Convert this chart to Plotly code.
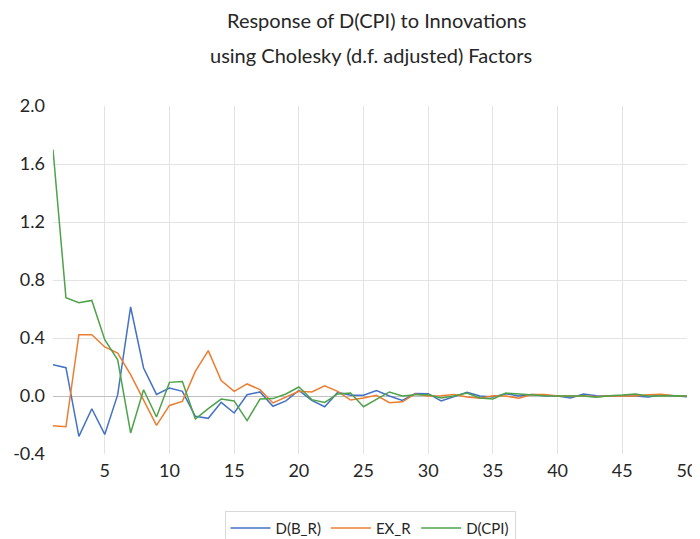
import plotly.graph_objects as go

periods = list(range(1, 51))

d_b_r = [0.216, 0.195, -0.278, -0.088, -0.265, 0.009, 0.614, 0.193, 0.011, 0.055,
         0.032, -0.140, -0.154, -0.044, -0.117, 0.009, 0.028, -0.071, -0.034, 0.039,
         -0.030, -0.074, 0.025, 0.005, 0.005, 0.037, 0.000, -0.030, 0.018, 0.016,
         -0.034, -0.005, 0.025, 0.000, -0.007, 0.016, 0.000, 0.010, 0.002, 0.000,
         -0.014, 0.014, 0.002, 0.000, 0.002, 0.000, -0.007, 0.007, 0.002, -0.005]

ex_r = [-0.205, -0.212, 0.423, 0.423, 0.338, 0.296, 0.147, -0.026, -0.203, -0.065,
        -0.037, 0.170, 0.313, 0.106, 0.032, 0.083, 0.044, -0.048, -0.009, 0.032,
        0.028, 0.071, 0.032, -0.028, -0.014, 0.005, -0.046, -0.040, 0.014, 0.000,
        0.002, 0.010, -0.007, -0.016, 0.002, 0.000, -0.016, 0.010, 0.010, 0.000,
        0.000, 0.002, -0.005, 0.002, 0.000, 0.000, 0.009, 0.012, 0.002, 0.000]

d_cpi = [1.700, 0.678, 0.643, 0.659, 0.388, 0.250, -0.255, 0.043, -0.145, 0.094,
         0.100, -0.159, -0.087, -0.021, -0.034, -0.170, -0.021, -0.018, 0.014, 0.062,
         -0.025, -0.044, 0.014, 0.020, -0.074, -0.025, 0.028, 0.000, 0.009, 0.009,
         -0.014, 0.000, 0.020, -0.014, -0.020, 0.020, 0.014, 0.005, 0.002, 0.000,
         0.000, 0.000, -0.009, 0.002, 0.007, 0.014, 0.000, 0.002, 0.002, 0.000]

x_tick_vals = [5, 10, 15, 20, 25, 30, 35, 40, 45, 50]
y_tick_vals = [-0.4, 0.0, 0.4, 0.8, 1.2, 1.6, 2.0]
y_tick_text = ["-0.4", "0.0", "0.4", "0.8", "1.2", "1.6", "2.0"]

series_names = ["D(B_R)", "EX_R", "D(CPI)"]
colors = ["#4472C4", "#ED7D31", "#4EA24A"]

FONT = "Lato, Open Sans, sans-serif"

fig = go.Figure()
for name, vals, col in zip(series_names, [d_b_r, ex_r, d_cpi], colors):
    fig.add_trace(go.Scatter(x=periods, y=vals, mode="lines", name=name,
                             line=dict(color=col, width=1.5)))

fig.update_layout(
    width=692, height=531,
    margin=dict(l=45, r=13, t=98, b=85, autoexpand=False),
    paper_bgcolor="white", plot_bgcolor="white",
    font=dict(family=FONT, color="#262626"),
    showlegend=True,
    legend=dict(orientation="h", x=0.5, xanchor="center", y=-0.163, yanchor="top",
                bordercolor="#d9d9d9", borderwidth=1, font=dict(size=15, color="#262626"),
                itemwidth=40),
    xaxis=dict(range=[1, 50], tickvals=x_tick_vals, showgrid=True, gridcolor="#e3e3e3",
               gridwidth=1, zeroline=False, showline=False, ticks="", automargin=False,
               ticklabelstandoff=4,
               tickfont=dict(size=18, family=FONT, color="#262626")),
    yaxis=dict(range=[-0.4, 2.0], tickvals=y_tick_vals, ticktext=y_tick_text,
               showgrid=True, gridcolor="#e3e3e3", gridwidth=1,
               zeroline=True, zerolinecolor="#bfbfbf", zerolinewidth=1,
               showline=False, ticks="", ticklabelstandoff=7, automargin=False,
               tickfont=dict(size=18, family=FONT, color="#262626")),
    annotations=[
        dict(text="Response of D(CPI) to Innovations", xref="paper", yref="paper",
             x=0.51, y=1.246, xanchor="center", yanchor="middle", showarrow=False,
             font=dict(size=20, family=FONT, color="#262626")),
        dict(text="using Cholesky (d.f. adjusted) Factors", xref="paper", yref="paper",
             x=0.502, y=1.146, xanchor="center", yanchor="middle", showarrow=False,
             font=dict(size=20, family=FONT, color="#262626")),
    ],
)

fig.write_html("out.html")
